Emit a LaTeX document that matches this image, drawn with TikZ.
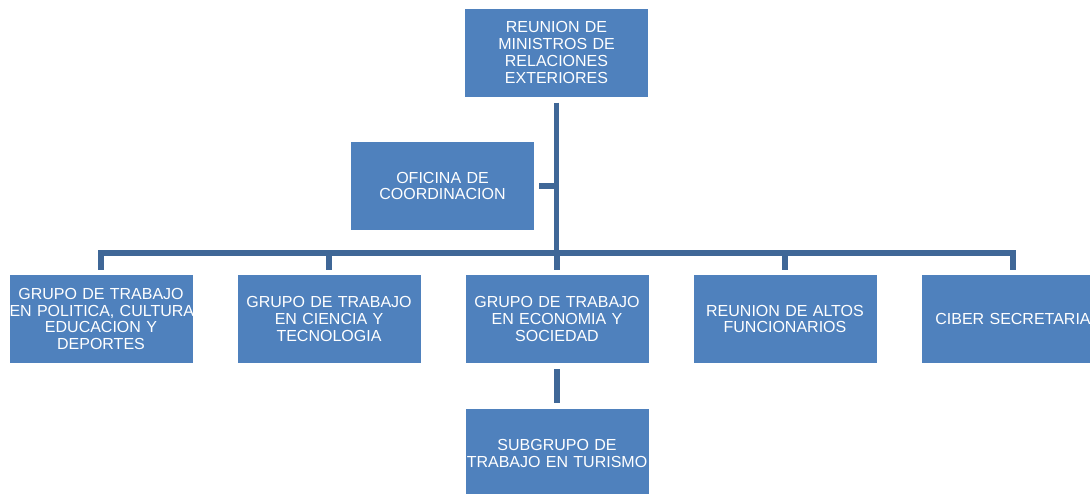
\documentclass[tikz,border=0pt]{standalone}
\usepackage{fontspec}
\setmainfont{Liberation Sans}
\usetikzlibrary{positioning}
\definecolor{boxblue}{HTML}{4F81BD}
\definecolor{linkblue}{HTML}{3F6797}
\tikzset{
unit/.style={shape=rectangle, fill=boxblue, text=white, minimum width=183pt, minimum height=88pt, text width=183pt, inner sep=0, align=center, font=\fontsize{16}{16.8}\selectfont}, link/.style={draw=linkblue, line width=5.5pt, line join=miter}}

\begin{document}
\begin{tikzpicture}[x=1pt, y=-1pt]
\useasboundingbox (0,0) rectangle (1090,493);
\node [unit] at (556.5, 52.5) (top) {REUNION DE\\MINISTROS DE\\RELACIONES\\EXTERIORES};
\node [unit] at (442.5, 186) (office) {OFICINA DE\\COORDINACION};
\coordinate (bar) at (556.5, 253);
\foreach \glabel [count=\j, evaluate={\gx=int(101 + 228 * (\j-1));}] in {{GRUPO DE TRABAJO\\\mbox{EN POLITICA, CULTURA}\\EDUCACION Y\\DEPORTES}, {GRUPO DE TRABAJO\\EN CIENCIA Y\\TECNOLOGIA}, {GRUPO DE TRABAJO\\EN ECONOMIA Y\\SOCIEDAD}, {REUNION DE ALTOS\\FUNCIONARIOS}, {CIBER SECRETARIA}}{
      \node [unit] at (\gx, 319) (g-\j) {\glabel};
      \ifnum\j>1
          \ifnum\j<5
              \draw [link] ([yshift=5pt]g-\j.north) -- (g-\j.north |- bar);
          \fi
      \fi
}
\node [unit, below=46pt of g-3] (sub) {SUBGRUPO DE\\TRABAJO EN TURISMO};
\draw [link] ([yshift=5pt]g-1.north) |- (bar) -| ([yshift=5pt]g-5.north);
\draw [link] ([yshift=-6pt]top.south) -- (bar);
\draw [link] ([xshift=5pt]office.east) -- (office.east -| bar);
\draw [link] ([yshift=-6pt]g-3.south) -- ([yshift=6pt]sub.north);
\end{tikzpicture}
\end{document}
